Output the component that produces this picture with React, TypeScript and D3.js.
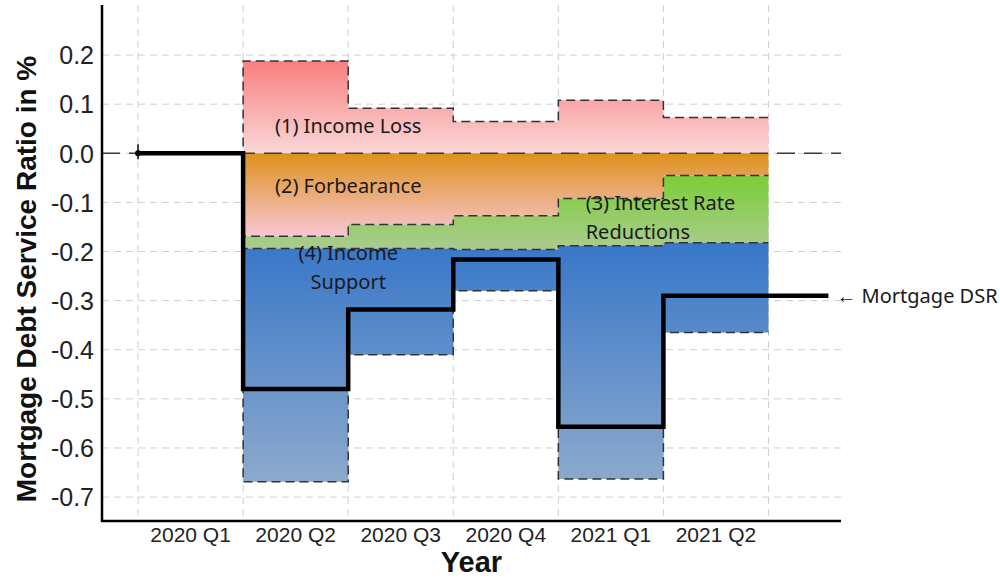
import React, { useEffect, useRef } from "react";
import * as d3 from "d3";

const quarters = ["2020 Q1", "2020 Q2", "2020 Q3", "2020 Q4", "2021 Q1", "2021 Q2"];

// contribution of each channel to the mortgage DSR (pp)
const incomeLoss = [0, 0.188, 0.092, 0.065, 0.108, 0.073];
const forbearance = [0, -0.169, -0.145, -0.127, -0.092, -0.045];
const interestRate = [0, -0.025, -0.049, -0.069, -0.096, -0.137];
const incomeSupport = [0, -0.475, -0.216, -0.084, -0.475, -0.183];
const mortgageDSR = [0, -0.48, -0.318, -0.216, -0.557, -0.29];
const dsrEndX = 6.57;

const yTicks = [0.2, 0.1, 0, -0.1, -0.2, -0.3, -0.4, -0.5, -0.6, -0.7];

const App = () => {
  const svgRef = useRef<SVGSVGElement | null>(null);

  useEffect(() => {
    const width = 1000;
    const height = 579;
    const left = 102, right = 841, top = 5, bottom = 521;

    const svg = d3.select(svgRef.current).attr("width", width).attr("height", height);
    svg.selectAll("*").remove();

    const x = d3.scaleLinear().domain([-0.343, 6.69]).range([left, right]);
    const y = d3.scaleLinear().domain([-0.7487, 0.302]).range([bottom, top]);

    const defs = svg.append("defs");
    const grad = (id: string, c1: string, c2: string) => {
      const g = defs.append("linearGradient").attr("id", id)
        .attr("x1", 0).attr("y1", 0).attr("x2", 0).attr("y2", 1);
      g.append("stop").attr("offset", "0%").attr("stop-color", c1);
      g.append("stop").attr("offset", "100%").attr("stop-color", c2);
    };
    grad("gLoss", "#fa7e7e", "#f9d8d8");
    grad("gForb", "#de911d", "#f8c6d4");
    grad("gRate", "#7bce36", "#abcb8f");
    grad("gSupp", "#3877c9", "#8ca9cb");

    // grid
    const grid = svg.append("g").attr("stroke", "#cfcfcf").attr("stroke-width", 1)
      .attr("stroke-dasharray", "7,5");
    yTicks.forEach((t) => {
      grid.append("line").attr("x1", left).attr("x2", right).attr("y1", y(t)).attr("y2", y(t));
    });
    d3.range(quarters.length + 1).forEach((i) => {
      grid.append("line").attr("x1", x(i)).attr("x2", x(i)).attr("y1", top).attr("y2", bottom);
    });

    // cumulative layers
    const n = quarters.length;
    const ext = (arr: number[]) => [...arr, arr[n - 1]];
    const lossTop = ext(incomeLoss);
    const forbLow = ext(forbearance);
    const rateLow = ext(forbearance.map((v, i) => v + interestRate[i]));
    const suppLow = ext(forbearance.map((v, i) => v + interestRate[i] + incomeSupport[i]));
    const zeros = ext(quarters.map(() => 0));

    const layers = [
      { fill: "url(#gLoss)", lo: zeros, hi: lossTop, edge: lossTop },
      { fill: "url(#gForb)", lo: forbLow, hi: zeros, edge: forbLow },
      { fill: "url(#gRate)", lo: rateLow, hi: forbLow, edge: rateLow },
      { fill: "url(#gSupp)", lo: suppLow, hi: rateLow, edge: suppLow },
    ];

    layers.forEach((l) => {
      const idx = d3.range(1, n + 1);
      svg.append("path")
        .attr("d", d3.area<number>()
          .x((i) => x(i))
          .y0((i) => y(l.lo[i]))
          .y1((i) => y(l.hi[i]))
          .curve(d3.curveStepAfter)(idx))
        .attr("fill", l.fill);
    });

    const stepLine = d3.line<[number, number]>()
      .x((d) => x(d[0]))
      .y((d) => y(d[1]))
      .curve(d3.curveStepAfter);

    layers.forEach((l) => {
      svg.append("path")
        .attr("d", stepLine(l.edge.map((v, i) => [i, v] as [number, number])))
        .attr("fill", "none")
        .attr("stroke", "#333")
        .attr("stroke-width", 1.5)
        .attr("stroke-dasharray", "9,5");
    });

    // zero line
    svg.append("line")
      .attr("x1", left).attr("x2", right).attr("y1", y(0)).attr("y2", y(0))
      .attr("stroke", "#3a3a3a").attr("stroke-width", 1.5).attr("stroke-dasharray", "18,9");

    // mortgage DSR
    const dsrPts: [number, number][] = mortgageDSR.map((v, i) => [i, v]);
    dsrPts.push([dsrEndX, mortgageDSR[n - 1]]);
    svg.append("path")
      .attr("d", stepLine(dsrPts))
      .attr("fill", "none")
      .attr("stroke", "#000")
      .attr("stroke-width", 4.5);
    svg.append("line")
      .attr("x1", x(0)).attr("x2", x(0)).attr("y1", y(mortgageDSR[0]) - 9).attr("y2", y(mortgageDSR[0]) + 6)
      .attr("stroke", "#000").attr("stroke-width", 1.5);
    svg.append("circle").attr("cx", x(0)).attr("cy", y(mortgageDSR[0])).attr("r", 3).attr("fill", "#000");

    // axes spines
    svg.append("line").attr("x1", left).attr("x2", left).attr("y1", top).attr("y2", bottom + 1)
      .attr("stroke", "#000").attr("stroke-width", 2.5);
    svg.append("line").attr("x1", left - 1).attr("x2", right).attr("y1", bottom).attr("y2", bottom)
      .attr("stroke", "#000").attr("stroke-width", 2.5);

    const tickFont = "'Liberation Sans', Arial, sans-serif";
    svg.append("g").selectAll("text").data(yTicks).join("text")
      .attr("x", left - 8)
      .attr("y", (d) => y(d))
      .attr("dy", "0.37em")
      .attr("text-anchor", "end")
      .attr("font-family", tickFont)
      .attr("font-size", 25)
      .attr("fill", "#222")
      .text((d) => d3.format(".1f")(d).replace("−", "-"));

    svg.append("g").selectAll("text").data(quarters).join("text")
      .attr("x", (d, i) => x(i + 0.5))
      .attr("y", bottom + 21)
      .attr("text-anchor", "middle")
      .attr("font-family", tickFont)
      .attr("font-size", 21)
      .attr("fill", "#222")
      .text((d) => d);

    svg.append("text")
      .attr("x", (left + right) / 2).attr("y", 572)
      .attr("text-anchor", "middle")
      .attr("font-family", tickFont).attr("font-weight", "bold").attr("font-size", 29)
      .attr("fill", "#111")
      .text("Year");

    svg.append("text")
      .attr("transform", `translate(36,${(55 + 503) / 2}) rotate(-90)`)
      .attr("text-anchor", "middle")
      .attr("font-family", tickFont).attr("font-weight", "bold").attr("font-size", 28)
      .attr("fill", "#111")
      .text("Mortgage Debt Service Ratio in %");

    // annotations
    const annFont = "'Noto Sans', 'Open Sans', sans-serif";
    const ann = [
      { t: "(1) Income Loss", x: 2, y: 0.055, a: "middle" },
      { t: "(2) Forbearance", x: 2, y: -0.066, a: "middle" },
      { t: "(3) Interest Rate", x: 4.26, y: -0.102, a: "start" },
      { t: "Reductions", x: 4.26, y: -0.16, a: "start" },
      { t: "(4) Income", x: 2, y: -0.204, a: "middle" },
      { t: "Support", x: 2, y: -0.263, a: "middle" },
    ];
    svg.append("g").selectAll("text").data(ann).join("text")
      .attr("x", (d) => x(d.x))
      .attr("y", (d) => y(d.y))
      .attr("dy", "0.35em")
      .attr("text-anchor", (d) => d.a)
      .attr("font-family", annFont)
      .attr("font-size", 20)
      .attr("fill", "#1a1a1a")
      .text((d) => d.t);

    svg.append("text")
      .attr("x", x(dsrEndX) + 8)
      .attr("y", y(mortgageDSR[n - 1]))
      .attr("dy", "0.35em")
      .attr("font-family", annFont)
      .attr("font-size", 20)
      .attr("fill", "#1a1a1a")
      .text("\u2190 Mortgage DSR");
  }, []);

  return (
    <svg ref={svgRef} style={{ position: "absolute", left: 0, top: 0, display: "block", background: "#fff" }} />
  );
};

export default App;
